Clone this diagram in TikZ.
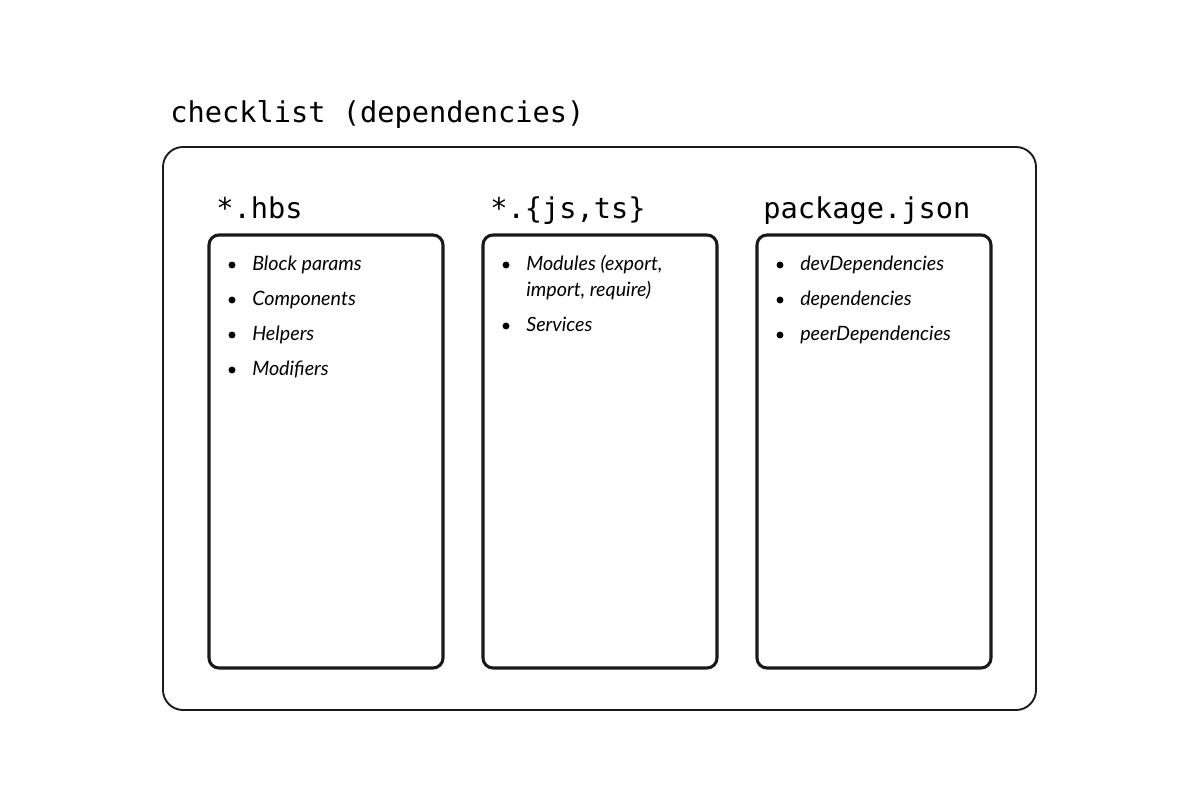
\documentclass[tikz,border=0pt]{standalone}
\usepackage{fontspec}
\newfontfamily\codefont{DejaVu Sans Mono}
\newfontfamily\itemfont{Lato}
\begin{document}
\begin{tikzpicture}[x=0.75pt,y=-0.75pt,
  outerbox/.style={draw=black!90,line width=1.4pt,rounded corners=15pt,inner sep=0pt,outer sep=0pt,minimum width=654.75pt,minimum height=422.25pt},
  colbox/.style={draw=black!90,line width=2.3pt,rounded corners=7.5pt,inner sep=0pt,outer sep=0pt,minimum width=175.5pt,minimum height=324.75pt},
  heading/.style={anchor=base west,inner sep=0pt,font=\codefont\fontsize{21.5}{24}\selectfont},
  item/.style={anchor=base west,inner sep=0pt,align=left,font=\itemfont\itshape\fontsize{14.8}{19.5}\selectfont},
  bullet/.style={circle,fill=black,inner sep=0pt,minimum size=5.2pt}]
\useasboundingbox (0,0) rectangle (1200,800);
\fill[white] (0,0) rectangle (1200,800);
\node[heading] (title) at (170,122) {checklist (dependencies)};
\node[outerbox] (outer) at (599.5,428.5) {};
% column 1
\node[heading] (h1) at (216,218) {*.hbs};
\node[colbox] (c1) at (326,451.5) {};
\node[bullet] (b11) at (232,265) {}; \node[item] (i11) at (252,270) {Block params};
\node[bullet] (b12) at (232,300) {}; \node[item] (i12) at (252,305) {Components};
\node[bullet] (b13) at (232,335) {}; \node[item] (i13) at (252,340) {Helpers};
\node[bullet] (b14) at (232,370) {}; \node[item] (i14) at (252,375) {Modifiers};
% column 2
\node[heading] (h2) at (490,218) {*.\{js,ts\}};
\node[colbox] (c2) at (600,451.5) {};
\node[bullet] (b21) at (506,265) {}; \node[item] (i21) at (526,296) {Modules (export,\\import, require)};
\node[bullet] (b22) at (506,326) {}; \node[item] (i22) at (526,331) {Services};
% column 3
\node[heading] (h3) at (763,218) {package.json};
\node[colbox] (c3) at (874,451.5) {};
\node[bullet] (b31) at (780,265) {}; \node[item] (i31) at (800,270) {devDependencies};
\node[bullet] (b32) at (780,300) {}; \node[item] (i32) at (800,305) {dependencies};
\node[bullet] (b33) at (780,335) {}; \node[item] (i33) at (800,340) {peerDependencies};
\end{tikzpicture}
\end{document}
